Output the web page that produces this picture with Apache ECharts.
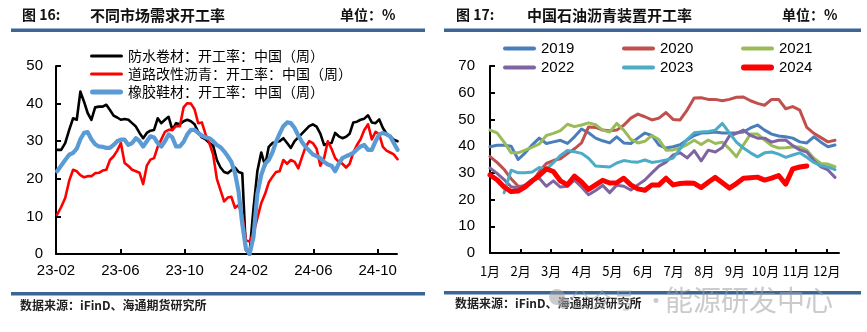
<!DOCTYPE html>
<html><head><meta charset="utf-8">
<script src="https://cdn.jsdelivr.net/npm/echarts@6/dist/echarts.min.js"></script>
<style>html,body{margin:0;padding:0;background:#fff}#c{width:867px;height:332px}</style>
</head><body><div id="c"></div>
<script>
// ---------- Left chart (图16) : weekly data from 2023-02-03 ----------
const leftStartDate = '2023-02-03';
const leftNames = ['防水卷材：开工率：中国（周）', '道路改性沥青：开工率：中国（周）', '橡胶鞋材：开工率：中国（周）'];
const leftTickLabels = ['23-02', '23-06', '23-10', '24-02', '24-06', '24-10'];
const waterproof = [27.7,27.7,29.5,33,36.1,35.7,43.2,40.5,37.5,35.7,39,39.2,39.2,39.7,38.3,36.8,36.3,35.7,35.9,35.7,34.8,33.9,32.2,30.8,32.2,32.8,33,36.1,34.8,35.7,36.5,
  33,34.8,34.5,35.3,35.7,35.3,34.5,32.5,31,30.5,29.5,28.9,25,23,21.8,21.5,22.3,23,21.8,21.5,1,0.3,12,22,27,23.5,28.5,29.5,29.8,30,
  30.8,29.5,28.2,30,31,32,33,34,34.5,33.9,32,29,29.4,29.5,32.2,31.3,30.8,31.2,32,35,35.2,35.7,36,36.9,35,34.8,35.8,33.5,32,31.3,30.4,30];
const roadAsphalt = [10.5,12.5,14.9,19.5,22.4,22,21,20.4,20.7,20.7,21.5,21.6,22.2,22.4,25,26,27.5,29.5,24.2,23.4,22.4,22,21.6,18.6,23.5,25.1,25.5,28.5,30.5,32.5,33,
  33,34,34,39,40.1,40,38.5,34.8,35,31.8,29.5,26.5,20,17,14,15,15.2,12.3,13,10.5,3.7,3.3,5.5,9.5,13.5,16,19,20.5,21.8,22,25,
  24,25,24.5,22.8,25.7,28.5,30,29.5,28,23.5,25.5,30,28,25.5,24.5,24,23,24,27,29,30.5,33,34.5,30.5,32.5,31.8,28.5,27.5,27,26.5,25.2];
const rubberShoe = [22,23.5,25,26.4,26.9,28,30.5,32.2,32.4,30.5,29.2,28.6,28.5,28.2,28.2,29,30,30.4,30.4,29,29.5,30.8,30,28.6,30,31.3,31,29.5,28.6,30,31.8,
  31,28.6,28.6,29.8,31.8,33,33,32.2,31.5,31,30.8,30,29,28.4,27.3,26,24.5,21.5,16.5,8,1.5,0,4.5,16,21,24,25,27,29.8,32,34,
  35,34.8,33.5,31.5,29.8,28.5,27.5,26.5,26,25.5,24.5,23.8,23.5,22,24,25.5,26,26.4,26.9,27.8,28.6,29,27.7,27.7,30,31.8,32.2,31.8,31.3,29.5,27.7];

// ---------- Right chart (图17) : weekly, week index within year ----------
const rightYears = ['2019', '2020', '2021', '2022', '2023', '2024'];
const rightMonthLabels = ['1月','2月','3月','4月','5月','6月','7月','8月','9月','10月','11月','12月'];
const y2019 = [39.8,40.3,40.3,40,35,37.5,40.5,43,41,41.6,42.2,41,43.5,46.4,45,43,42,41.2,43.5,41.2,41,43,44.9,44,40.4,39.3,39.8,40.5,42.3,44,44.9,45,45.3,44.9,44.9,45,45.3,46.8,47.9,46,44.5,43.8,43.5,43,41.6,41.2,43.5,41.5,39.8,40.4];
const y2020 = [36.1,33.9,31.3,27.8,25,25,26.6,30.5,33.5,34.6,35.3,37.2,39,41.2,47.2,47,46,45.8,46,47.8,50.5,52,51,49.8,50.5,52.6,50,49.8,53.5,58,58.1,57.5,57.5,57,57.5,58.3,58.4,57,56,55.3,57.5,57.5,54,54.8,53.5,47,44.8,43.2,41.6,42.2];
const y2021 = [46,45,41.5,37.5,37.5,38.5,39.6,40.8,44,44.8,45.8,48.2,47.3,47.9,48.7,48,46,45.3,48.5,46,42.5,41.2,41.8,44,42.5,38.5,38.6,39.3,40.6,42.2,40.6,42.3,41,41.5,39,36,40.5,44.5,44.5,42.3,40.2,39.3,39.4,39.7,39.7,38.5,35.5,33.5,33.3,32.3];
const y2022 = [31.8,29.8,27.5,24.8,24.3,25.5,27.5,28,25,27,24.7,25,27.3,24.7,21.8,23.4,25.3,22.6,25.4,25,23.6,25.5,27.3,30,32.5,34,36.7,37.5,35.6,38.3,34.5,38.5,37.8,39.5,43.8,44.8,46,44,43,43,41.5,42.2,42.3,40.2,38.6,37.8,34.6,32.2,31.1,28.3];
const y2023 = [null,null,22.5,31,30,30,30.3,32,31.3,33.8,36.5,38.4,37.9,37.3,35.5,32.6,32.4,32.2,33.7,34.6,34.2,34,34.8,33.9,34.3,34.8,35.5,39,42.5,45,45.3,45.5,46,48.5,45,41.5,39.3,37.5,36,37.5,37.8,37,35.8,36.7,37.5,35.8,33.9,32.7,32.2,31.2];
const y2024 = [29.2,27.4,24.7,23,23.2,24.8,27,29,31.5,30.5,27,25.5,28.8,26.6,23.8,25.5,27.2,26.2,26.3,28,25.5,24,23.5,25.5,25.5,28,25.5,26,26.2,26.1,24.5,26.5,28.3,26.3,24.3,26,28,28.2,28.4,27.3,28,29,25.8,31.5,32.2,32.6];

// ---------- helpers ----------
function leftX(i) {
  const d = new Date(leftStartDate + 'T00:00:00Z');
  d.setUTCDate(d.getUTCDate() + 7 * i);
  const y = d.getUTCFullYear(), m = d.getUTCMonth(), day = d.getUTCDate();
  const dim = new Date(Date.UTC(y, m + 1, 0)).getUTCDate();
  return (y - 2023) * 12 + m - 1 + (day - 1) / dim;   // months since 2023-02-01
}
function leftPairs(arr) { return arr.map((v, i) => [leftX(i), v]); }
function weekX(w) { return w * 12 / 52.18; }          // months since Jan 1
function rightPairs(arr) { return arr.map((v, w) => [weekX(w), v]); }
function barIcon(h) { const r = h / 2; return 'path://M' + r + ',0h' + (33 - h) + 'a' + r + ',' + r + ' 0 0 1 0,' + h + 'h-' + (33 - h) + 'a' + r + ',' + r + ' 0 0 1 0,-' + h + 'z'; }

const FONT = '"Noto Sans CJK SC", sans-serif';
const NUMFONT = 'Arial, "Liberation Sans", sans-serif';
const ruleColor = '#3b6595';

const rightColors = ['#4a7ebb', '#c0504d', '#9bbb59', '#8064a2', '#4bacc6', '#ff0000'];
const rightData = [y2019, y2020, y2021, y2022, y2023, y2024];
const leftColors = ['#000000', '#ff0000', '#5b9bd5'];
const leftWidths = [2.6, 2.6, 4.2];
const leftData = [waterproof, roadAsphalt, rubberShoe];

const chart = echarts.init(document.getElementById('c'), null, {renderer: 'canvas'});

const leftSeries = leftNames.map((nm, k) => ({
  type: 'line', name: nm, xAxisIndex: 0, yAxisIndex: 0, symbol: 'none', animation: false,
  data: leftPairs(leftData[k]), color: leftColors[k],
  lineStyle: {width: leftWidths[k], color: leftColors[k], join: 'round', cap: 'round'}
}));

const rightSeries = rightYears.map((yr, k) => ({
  type: 'line', name: yr, xAxisIndex: 1, yAxisIndex: 1, symbol: 'none', animation: false,
  data: rightPairs(rightData[k]), color: rightColors[k],
  lineStyle: {width: k === 5 ? 5 : 3, color: rightColors[k], join: 'round', cap: 'round'}
}));

const legendPos = [[503, 41], [622, 41], [741, 41], [503, 60], [622, 60], [741, 60]];
const rightLegends = rightYears.map((yr, k) => ({
  data: [{name: yr, icon: barIcon(k === 5 ? 6 : 4)}], left: legendPos[k][0], top: legendPos[k][1],
  itemWidth: 33, itemHeight: 14, itemGap: 0,
  padding: 0, textStyle: {fontSize: 15, fontFamily: NUMFONT, color: '#000'}
}));

const axisLineStyle = {show: true, lineStyle: {color: '#000', width: 2}};

const option = {
  backgroundColor: '#ffffff',
  animation: false,
  grid: [
    {left: 56, top: 66, width: 341, height: 188},
    {left: 490, top: 66, width: 349, height: 187}
  ],
  legend: [
    {data: leftNames.map((nm, k) => ({name: nm, icon: barIcon(k === 2 ? 5 : 3)})),
     orient: 'vertical', left: 90, top: 49, itemWidth: 33, itemHeight: 14, itemGap: 4,
     padding: 0, textStyle: {fontSize: 14, fontFamily: FONT, color: '#000', lineHeight: 14}}
  ].concat(rightLegends),
  xAxis: [
    {type: 'value', gridIndex: 0, min: 0, max: 21.2, interval: 4,
     axisLine: axisLineStyle, splitLine: {show: false},
     axisTick: {show: true, inside: true, length: 5, lineStyle: {color: '#000', width: 2}, customValues: [0,4,8,12,16,20]},
     axisLabel: {customValues: [0,4,8,12,16,20], fontSize: 15, fontFamily: NUMFONT, color: '#000', margin: 9,
       formatter: v => leftTickLabels[Math.round(v / 4)]}},
    {type: 'value', gridIndex: 1, min: 0, max: 11.4, interval: 1,
     axisLine: axisLineStyle, splitLine: {show: false},
     axisTick: {show: true, inside: true, length: 4, lineStyle: {color: '#000', width: 2}, customValues: [0,1,2,3,4,5,6,7,8,9,10,11]},
     axisLabel: {customValues: [0,1,2,3,4,5,6,7,8,9,10,11], fontSize: 13, fontFamily: FONT, color: '#000', margin: 12,
       formatter: v => rightMonthLabels[Math.round(v)]}}
  ],
  yAxis: [
    {type: 'value', gridIndex: 0, min: 0, max: 50, interval: 10,
     axisLine: axisLineStyle, splitLine: {show: false},
     axisTick: {show: true, inside: true, length: 5, lineStyle: {color: '#000', width: 2}},
     axisLabel: {fontSize: 15, fontFamily: NUMFONT, color: '#000', margin: 13}},
    {type: 'value', gridIndex: 1, min: 0, max: 70, interval: 10,
     axisLine: axisLineStyle, splitLine: {show: false},
     axisTick: {show: true, inside: true, length: 5, lineStyle: {color: '#000', width: 2}},
     axisLabel: {fontSize: 15, fontFamily: NUMFONT, color: '#000', margin: 15}}
  ],
  series: leftSeries.concat(rightSeries),
  graphic: [
    {type: 'rect', shape: {x: 11, y: 28.5, width: 414, height: 3.5}, style: {fill: ruleColor}, silent: true},
    {type: 'rect', shape: {x: 444, y: 28.5, width: 417, height: 3.5}, style: {fill: ruleColor}, silent: true},
    {type: 'rect', shape: {x: 11, y: 292, width: 414, height: 3.5}, style: {fill: ruleColor}, silent: true},
    {type: 'rect', shape: {x: 444, y: 291, width: 417, height: 3.5}, style: {fill: ruleColor}, silent: true},
    {type: 'text', style: {x: 22, y: 15, text: '图 16:', fontSize: 14, fontWeight: 'bold', fontFamily: FONT, fill: '#111', verticalAlign: 'middle'}},
    {type: 'text', style: {x: 90, y: 15, text: '不同市场需求开工率', fontSize: 15, fontWeight: 'bold', fontFamily: FONT, fill: '#111', verticalAlign: 'middle'}},
    {type: 'text', style: {x: 340, y: 15, text: '单位：%', fontSize: 14, fontWeight: 'bold', fontFamily: FONT, fill: '#111', verticalAlign: 'middle'}},
    {type: 'text', style: {x: 456, y: 15, text: '图 17:', fontSize: 14, fontWeight: 'bold', fontFamily: FONT, fill: '#111', verticalAlign: 'middle'}},
    {type: 'text', style: {x: 527, y: 15, text: '中国石油沥青装置开工率', fontSize: 15, fontWeight: 'bold', fontFamily: FONT, fill: '#111', verticalAlign: 'middle'}},
    {type: 'text', style: {x: 782, y: 15, text: '单位：%', fontSize: 14, fontWeight: 'bold', fontFamily: FONT, fill: '#111', verticalAlign: 'middle'}},
    {type: 'text', style: {x: 20, y: 305, text: '数据来源：iFinD、海通期货研究所', fontSize: 12, fontWeight: 'bold', fontFamily: FONT, fill: '#222', verticalAlign: 'middle'}},
    {type: 'text', style: {x: 455, y: 303, text: '数据来源：iFinD、海通期货研究所', fontSize: 12, fontWeight: 'bold', fontFamily: FONT, fill: '#222', verticalAlign: 'middle'}},
    {type: 'circle', shape: {cx: 557, cy: 297, r: 8}, style: {fill: 'rgba(160,160,160,0.55)'}, silent: true, z: 100},
    {type: 'circle', shape: {cx: 564, cy: 303, r: 6}, style: {fill: 'rgba(160,160,160,0.55)'}, silent: true, z: 100},
    {type: 'text', z: 100, style: {x: 569, y: 300, text: '公众号', fontSize: 22, fontFamily: FONT, fill: 'rgba(160,160,160,0.55)', verticalAlign: 'middle'}},
    {type: 'text', z: 100, style: {x: 644, y: 300, text: '·', fontSize: 24, fontFamily: FONT, fill: 'rgba(160,160,160,0.55)', verticalAlign: 'middle'}},
    {type: 'text', z: 100, style: {x: 665, y: 300, text: '能源研发中心', fontSize: 28, fontFamily: FONT, fill: 'rgba(160,160,160,0.55)', verticalAlign: 'middle'}}
  ]
};
chart.setOption(option);
</script>
</body></html>
